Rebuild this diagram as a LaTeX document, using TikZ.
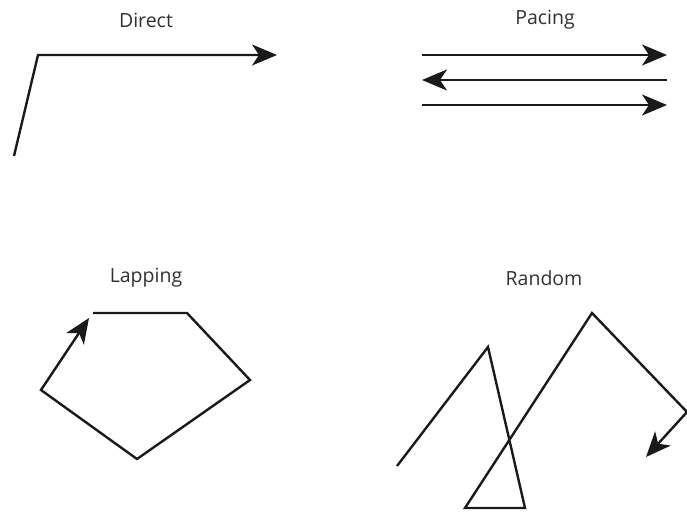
\documentclass[tikz,border=0pt]{standalone}
\usepackage{fontspec}
\setmainfont{Open Sans}
\usetikzlibrary{arrows.meta}
\definecolor{ink}{HTML}{1A1A1A}
\tikzset{
  pathline/.style={draw=ink, line width=2.4pt, line join=miter},
  arr/.style={pathline, -{Stealth[length=25pt,width=21pt,inset=7pt]}},
  lbl/.style={text=ink!90, font=\fontsize{19.5}{22}\selectfont, inner sep=0pt}
}
\begin{document}
\begin{tikzpicture}[x=1pt,y=-1pt]
\useasboundingbox (0,0) rectangle (687,512);
% labels
\node[lbl] (tdirect) at (146,20) {Direct};
\node[lbl] (tpacing) at (545,20) {Pacing};
\node[lbl] (tlapping) at (146,278) {Lapping};
\node[lbl] (trandom) at (544,278) {Random};
% Direct
\coordinate (d1) at (14,156);
\coordinate (d2) at (38,55);
\coordinate (d3) at (277,55);
\draw[arr] (d1) -- (d2) -- (d3);
% Pacing
\coordinate (p1a) at (422,55);  \coordinate (p1b) at (667,55);
\coordinate (p2a) at (667,80);  \coordinate (p2b) at (422,80);
\coordinate (p3a) at (422,105); \coordinate (p3b) at (667,105);
\draw[arr] (p1a) -- (p1b);
\draw[arr] (p2a) -- (p2b);
\draw[arr] (p3a) -- (p3b);
% Lapping
\coordinate (l1) at (93,313);
\coordinate (l2) at (187,313);
\coordinate (l3) at (250,380);
\coordinate (l4) at (137,459);
\coordinate (l5) at (41,390);
\coordinate (l6) at (89,318);
\draw[arr] (l1) -- (l2) -- (l3) -- (l4) -- (l5) -- (l6);
% Random
\coordinate (r1) at (397,466);
\coordinate (r2) at (488,347);
\coordinate (r3) at (525,508);
\coordinate (r4) at (465,508);
\coordinate (r5) at (592,313);
\coordinate (r6) at (687,412);
\coordinate (r7) at (646,457);
\draw[arr] (r1) -- (r2) -- (r3) -- (r4) -- (r5) -- (r6) -- (r7);
\end{tikzpicture}
\end{document}
